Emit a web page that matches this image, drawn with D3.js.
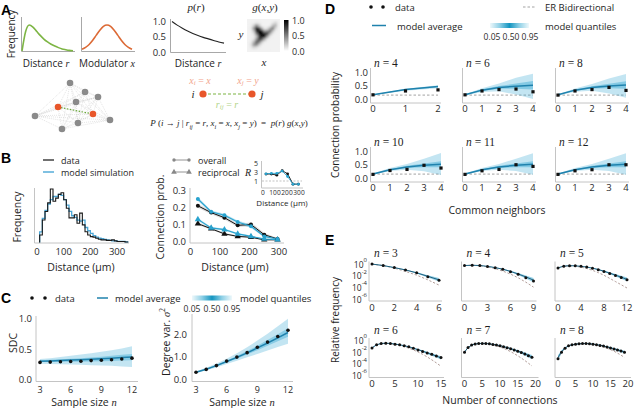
<!DOCTYPE html>
<html><head><meta charset="utf-8">
<script src="https://cdn.jsdelivr.net/npm/d3@7"></script>
<style>
body{margin:0;background:#fff;}
svg{display:block;}
</style></head><body>
<script>
// ================= DATA =================
// Panel A
const distR = [0,0.75,1.0,0.92,0.76,0.6,0.46,0.35,0.26,0.19,0.13,0.08,0.05,0.025,0.01];
const modX  = [0.07,0.14,0.25,0.41,0.61,0.8,0.95,1.0,0.95,0.8,0.61,0.41,0.25,0.14,0.07];
const prR   = [1.0,0.88,0.78,0.69,0.61,0.54,0.48,0.43,0.38,0.33,0.29];
const prTicks = [0,0.5,1];
const cbTicks = [0,0.5,1];
const gMat = [
 [.1,.1,.1,.1,.1,.1,.1,.1,.1,.1,.1,.1],
 [.1,.1,.12,.18,.14,.1,.1,.1,.1,.18,.28,.12],
 [.1,.12,.3,.55,.35,.12,.1,.1,.15,.4,.4,.12],
 [.1,.15,.5,.9,.8,.4,.15,.2,.45,.6,.25,.1],
 [.1,.12,.35,.85,1,.9,.5,.55,.65,.35,.12,.1],
 [.1,.1,.2,.55,.95,1,.95,.8,.4,.15,.1,.1],
 [.1,.1,.15,.35,.8,1,.9,.45,.15,.1,.1,.1],
 [.1,.1,.2,.5,.8,.7,.4,.15,.1,.1,.1,.1],
 [.1,.15,.4,.7,.6,.3,.12,.1,.1,.1,.1,.1],
 [.1,.2,.5,.55,.3,.12,.1,.1,.1,.1,.1,.1],
 [.1,.15,.25,.2,.12,.1,.1,.1,.1,.1,.1,.1],
 [.1,.1,.1,.1,.1,.1,.1,.1,.1,.1,.1,.1]];
const netNodes = [[46.7,0,0],[66.7,19.6,0],[84,30.4,0],[54.7,41.3,0],[30.7,52.2,1],[77.3,67.4,1],[0,71.7,0],[57.3,87,0],[100,80.4,0],[36,100,0]];
const pairNodes = [0,100];

// Panel B
const histEdges = [10,20,30,40,50,60,70,80,90,100,110,120,130,140,150,160,170,180,190,200,210,220,230,240,250,260,270,280,290,300,310,320,330,340];
const histData  = [0.14,0.42,0.58,0.74,1.0,0.77,0.83,0.9,0.93,0.8,0.64,0.46,0.46,0.52,0.36,0.55,0.33,0.2,0.14,0.11,0.1,0.08,0.06,0.05,0.05,0.04,0.04,0.05,0.03,0.02,0.02,0.02,0.01];
const histModel = [0.2,0.45,0.6,0.72,0.8,0.86,0.86,0.9,0.88,0.8,0.7,0.58,0.5,0.47,0.42,0.4,0.42,0.28,0.22,0.17,0.13,0.1,0.08,0.07,0.06,0.05,0.04,0.03,0.03,0.02,0.02,0.02,0.01];
const distTicks = [0,100,200,300];
const cpDist = [25,70,115,160,205,250,295];
const cpOverallData  = [0.21,0.17,0.14,0.095,0.10,0.04,0.015];
const cpOverallModel = [0.25,0.175,0.155,0.115,0.09,0.03,0.015];
const cpRecipData    = [0.105,0.075,0.045,0.03,0.025,0.01,0.01];
const cpRecipModel   = [0.13,0.08,0.07,0.045,0.03,0.015,0.01];
const cpOverallDataErr  = [0.012,0.01,0.01,0.01,0.012,0.01,0.006];
const cpOverallModelErr = [0.012,0.008,0.008,0.008,0.01,0.006,0.004];
const cpRecipDataErr    = [0.008,0.006,0.005,0.005,0.005,0.004,0.003];
const cpRecipModelErr   = [0.008,0.006,0.006,0.005,0.005,0.004,0.003];
const cpTicks = [0,0.1,0.2,0.3];
const rData  = [2.55,2.55,2.3,3.3,2.6,0.3,0.3];
const rModel = [2.6,2.7,2.7,3.2,2.0,0.3,0.3];
const rTicks = [1,3,5];

// Panel C
const sampleN = [3,4,5,6,7,8,9,10,11,12];
const sampleTicks = [3,6,9,12];
const sdcData = [0.28,0.285,0.29,0.295,0.30,0.31,0.315,0.325,0.335,0.35];
const sdcAvg  = [0.30,0.305,0.31,0.318,0.325,0.333,0.342,0.35,0.36,0.37];
const sdcQ05  = [0.26,0.255,0.25,0.245,0.24,0.235,0.23,0.225,0.215,0.205];
const sdcQ25  = [0.285,0.287,0.289,0.291,0.293,0.296,0.30,0.305,0.31,0.315];
const sdcQ75  = [0.315,0.322,0.33,0.34,0.35,0.36,0.375,0.39,0.405,0.42];
const sdcQ95  = [0.335,0.35,0.37,0.39,0.41,0.43,0.455,0.48,0.51,0.545];
const sdcTicks = [0,0.5,1];
const dvData = [0.3,0.43,0.6,0.8,0.98,1.18,1.42,1.65,1.9,2.18];
const dvAvg  = [0.3,0.44,0.6,0.78,0.97,1.17,1.39,1.61,1.84,2.08];
const dvQ05  = [0.27,0.39,0.52,0.67,0.82,0.97,1.12,1.28,1.43,1.58];
const dvQ25  = [0.29,0.42,0.57,0.74,0.91,1.1,1.29,1.49,1.69,1.89];
const dvQ75  = [0.31,0.46,0.63,0.82,1.03,1.25,1.49,1.74,2.0,2.27];
const dvQ95  = [0.33,0.5,0.69,0.91,1.15,1.42,1.72,2.03,2.36,2.7];
const dvTicks = [0,1,2];
const quantTicks = [0.05,0.5,0.95];

// Panel D (common neighbors -> connection probability)
const dN4data = [0.17,0.31,0.35], dN4avg=[0.17,0.36,0.47], dN4q05=[0.16,0.32,0.41], dN4q25=[0.165,0.345,0.445], dN4q75=[0.175,0.375,0.495], dN4q95=[0.18,0.39,0.52];
const dN6data = [0.17,0.31,0.36,0.38,0.28], dN6avg=[0.17,0.34,0.44,0.48,0.52], dN6q05=[0.15,0.27,0.3,0.18,0.02], dN6q25=[0.16,0.31,0.39,0.39,0.36], dN6q75=[0.18,0.37,0.49,0.58,0.67], dN6q95=[0.19,0.41,0.58,0.79,0.94];
const dN8data = [0.16,0.31,0.36,0.44,0.33], dN8avg=[0.17,0.34,0.44,0.49,0.53], dN8q05=[0.15,0.28,0.32,0.22,0.06], dN8q25=[0.16,0.32,0.4,0.41,0.39], dN8q75=[0.18,0.36,0.48,0.57,0.66], dN8q95=[0.19,0.4,0.56,0.76,0.93];
const dN10data= [0.15,0.29,0.33,0.48,0.38], dN10avg=[0.16,0.32,0.42,0.48,0.52], dN10q05=[0.14,0.27,0.32,0.26,0.13], dN10q25=[0.15,0.3,0.38,0.41,0.41], dN10q75=[0.17,0.34,0.46,0.55,0.63], dN10q95=[0.18,0.38,0.53,0.72,0.93];
const dN11data= [0.15,0.28,0.33,0.5,0.44], dN11avg=[0.16,0.32,0.42,0.48,0.52], dN11q05=[0.14,0.27,0.32,0.27,0.14], dN11q25=[0.15,0.3,0.38,0.41,0.41], dN11q75=[0.17,0.34,0.46,0.55,0.63], dN11q95=[0.18,0.38,0.53,0.72,0.92];
const dN12data= [0.15,0.28,0.32,0.5,0.5], dN12avg=[0.16,0.32,0.42,0.48,0.52], dN12q05=[0.14,0.27,0.32,0.27,0.14], dN12q25=[0.15,0.3,0.38,0.41,0.41], dN12q75=[0.17,0.34,0.46,0.55,0.63], dN12q95=[0.18,0.38,0.53,0.72,0.92];
const dER = [0.16,0.16,0.16,0.16,0.16];
const dYTicks = [0,0.5,1];

// Panel E (log10 relative frequency)
const eN3data=[-0.1,-0.35,-0.7,-1.1,-1.6,-2.25,-2.85], eN3avg=[-0.1,-0.35,-0.7,-1.1,-1.6,-2.2,-2.8], eN3lo=[-0.12,-0.38,-0.75,-1.18,-1.72,-2.4,-3.1], eN3hi=[-0.08,-0.32,-0.65,-1.02,-1.48,-2.0,-2.5], eN3er=[-0.1,-0.36,-0.8,-1.35,-2.0,-2.8,-3.7];
const eN4data=[-0.35,-0.3,-0.36,-0.5,-0.72,-1.0,-1.4,-1.85,-2.45,-3.0], eN4avg=[-0.35,-0.3,-0.35,-0.49,-0.7,-0.98,-1.35,-1.8,-2.3,-2.85], eN4lo=[-0.37,-0.32,-0.38,-0.53,-0.76,-1.07,-1.47,-1.98,-2.55,-3.2], eN4hi=[-0.33,-0.28,-0.32,-0.45,-0.64,-0.9,-1.23,-1.62,-2.05,-2.5], eN4er=[-0.35,-0.3,-0.38,-0.58,-0.88,-1.3,-1.82,-2.45,-3.2,-4.05];
const eN5data=[-0.75,-0.45,-0.38,-0.4,-0.48,-0.62,-0.8,-1.05,-1.35,-1.7,-2.05,-2.4,-2.8], eN5avg=[-0.75,-0.45,-0.38,-0.4,-0.48,-0.62,-0.8,-1.04,-1.33,-1.66,-2.0,-2.35,-2.72], eN5lo=[-0.78,-0.47,-0.4,-0.42,-0.51,-0.66,-0.86,-1.12,-1.45,-1.82,-2.22,-2.62,-3.05], eN5hi=[-0.72,-0.43,-0.36,-0.38,-0.45,-0.58,-0.74,-0.96,-1.22,-1.5,-1.8,-2.1,-2.4], eN5er=[-0.75,-0.45,-0.4,-0.47,-0.62,-0.86,-1.17,-1.56,-2.02,-2.55,-3.1,-3.65,-4.2];
const eN6data=[-1.37,-0.82,-0.6,-0.55,-0.6,-0.71,-0.82,-0.98,-1.15,-1.42,-1.7,-1.97,-2.24,-2.46,-2.73,-3.0], eN6avg=[-1.35,-0.82,-0.6,-0.55,-0.59,-0.69,-0.82,-0.98,-1.17,-1.4,-1.65,-1.92,-2.2,-2.48,-2.76,-3.05], eN6lo=[-1.4,-0.85,-0.62,-0.57,-0.61,-0.72,-0.86,-1.03,-1.24,-1.49,-1.77,-2.07,-2.38,-2.7,-3.02,-3.35], eN6hi=[-1.3,-0.79,-0.58,-0.53,-0.57,-0.66,-0.78,-0.93,-1.1,-1.31,-1.53,-1.77,-2.02,-2.27,-2.52,-2.77], eN6er=[-1.37,-0.82,-0.6,-0.56,-0.62,-0.75,-0.92,-1.13,-1.39,-1.7,-2.05,-2.45,-2.9,-3.4,-3.93,-4.5];
const eN7data=[-2.1,-1.3,-0.85,-0.68,-0.6,-0.58,-0.6,-0.66,-0.75,-0.86,-1.0,-1.15,-1.32,-1.5,-1.7,-1.92,-2.15,-2.4,-2.7,-2.95], eN7avg=[-2.05,-1.3,-0.86,-0.68,-0.6,-0.58,-0.6,-0.66,-0.74,-0.85,-0.98,-1.13,-1.3,-1.48,-1.68,-1.9,-2.13,-2.38,-2.64,-2.9], eN7lo=[-2.15,-1.34,-0.89,-0.7,-0.62,-0.6,-0.62,-0.68,-0.77,-0.89,-1.03,-1.2,-1.39,-1.6,-1.83,-2.08,-2.35,-2.64,-2.95,-3.28], eN7hi=[-1.95,-1.26,-0.83,-0.66,-0.58,-0.56,-0.58,-0.64,-0.71,-0.81,-0.93,-1.06,-1.21,-1.37,-1.54,-1.72,-1.92,-2.13,-2.35,-2.57], eN7er=[-2.1,-1.3,-0.86,-0.68,-0.61,-0.6,-0.64,-0.72,-0.84,-1.0,-1.2,-1.43,-1.7,-2.0,-2.34,-2.7,-3.1,-3.52,-3.98,-4.45];
const eN8data=[-3.2,-2.1,-1.4,-1.0,-0.82,-0.72,-0.66,-0.6,-0.6,-0.66,-0.72,-0.82,-0.93,-1.04,-1.2,-1.37,-1.53,-1.7,-1.9,-2.1], eN8avg=[-3.0,-2.0,-1.38,-1.0,-0.82,-0.72,-0.65,-0.61,-0.6,-0.63,-0.7,-0.79,-0.9,-1.03,-1.18,-1.34,-1.51,-1.69,-1.88,-2.07], eN8lo=[-3.5,-2.3,-1.52,-1.08,-0.86,-0.75,-0.68,-0.63,-0.62,-0.66,-0.73,-0.83,-0.96,-1.11,-1.28,-1.47,-1.67,-1.88,-2.1,-2.33], eN8hi=[-2.6,-1.75,-1.25,-0.93,-0.78,-0.69,-0.62,-0.59,-0.58,-0.6,-0.67,-0.75,-0.85,-0.96,-1.08,-1.22,-1.36,-1.51,-1.67,-1.83], eN8er=[-3.2,-2.1,-1.4,-1.0,-0.82,-0.72,-0.66,-0.62,-0.62,-0.66,-0.74,-0.86,-1.0,-1.18,-1.4,-1.65,-1.93,-2.25,-2.6,-3.0];
const eYTicks = [0,-2,-4,-6];

// ================= DRAWING =================
const svg = d3.select('body').append('svg').attr('width',640).attr('height',408);
const SANS = "'Open Sans','DejaVu Sans',sans-serif";
const SERIF = "'Liberation Serif','DejaVu Serif',serif";
const SPINE='#c4c4c4', TICK='#2a2a2a', AX='#1e1e1e';
const BLUE='#29a3cf', BLUE_LINE='#1f82ad', HIST_BLUE='#4aa6d6';
const f1=d3.format('.1f'), fd=d3.format('d'), f2=d3.format('.2f');

const defs = svg.append('defs');
const qg = defs.append('linearGradient').attr('id','qgrad');
[[0,'#eef8fb'],[0.25,'#8fd0e6'],[0.5,'#1495c0'],[0.75,'#8fd0e6'],[1,'#eef8fb']].forEach(s=>qg.append('stop').attr('offset',s[0]).attr('stop-color',s[1]));
const cg = defs.append('linearGradient').attr('id','cgrad').attr('x1',0).attr('y1',0).attr('x2',0).attr('y2',1);
[[0,'#000'],[1,'#fff']].forEach(s=>cg.append('stop').attr('offset',s[0]).attr('stop-color',s[1]));
defs.append('filter').attr('id','blur').attr('x','-20%').attr('y','-20%').attr('width','140%').attr('height','140%')
  .append('feGaussianBlur').attr('stdDeviation',1.3);

function rich(g,x,y,parts,o={}){
  const size=o.size||10;
  const t=g.append('text').attr('x',x).attr('y',y).attr('font-size',size).attr('fill',o.fill||AX)
    .attr('text-anchor',o.anchor||'start').attr('dominant-baseline','central').attr('font-family',o.family||SANS)
    .style('white-space','pre');
  if(o.weight) t.attr('font-weight',o.weight);
  if(o.rotate) t.attr('transform',`rotate(-90,${x},${y})`);
  let shift=0;
  parts.forEach(p=>{
    if(typeof p==='string') p={t:p};
    const s=t.append('tspan').text(p.t);
    const target = p.sub? 0.3*size : p.sup? -0.42*size : 0;
    if(target!==shift){ s.attr('dy',target-shift); shift=target; }
    if(p.sub||p.sup) s.attr('font-size',size*0.7);
    if(p.it){ s.attr('font-style','italic').attr('font-family',SERIF); }
    if(p.serif){ s.attr('font-family',SERIF); }
  });
  return t;
}
function plain(g,x,y,s,size,anchor){
  return g.append('text').attr('x',x).attr('y',y).attr('text-anchor',anchor).attr('dominant-baseline','central')
    .attr('font-size',size).attr('font-family',SANS).attr('fill',TICK).text(s);
}
function spines(g,xl,xr,yt,yb,c=SPINE){
  g.append('line').attr('x1',xl).attr('x2',xl).attr('y1',yt).attr('y2',yb).attr('stroke',c).attr('stroke-width',1);
  g.append('line').attr('x1',xl).attr('x2',xr).attr('y1',yb).attr('y2',yb).attr('stroke',c).attr('stroke-width',1);
}
function yLabels(g,yS,vals,x,fmt,size,anchor){
  vals.forEach(v=>plain(g,x,yS(v),fmt(v),size,anchor||'end'));
}
function xLabels(g,xS,vals,y,fmt,size){
  vals.forEach(v=>plain(g,xS(v),y,fmt(v),size,'middle'));
}
function band(g,xs,lo,hi,xS,yS,fill,op){
  g.append('path').datum(xs).attr('d',d3.area().x(d=>xS(d)).y0((d,i)=>yS(lo[i])).y1((d,i)=>yS(hi[i])))
   .attr('fill',fill).attr('fill-opacity',op).attr('stroke','none');
}
function sline(g,xs,ys,xS,yS,stroke,w,dash,curve){
  const p=g.append('path').datum(xs).attr('d',d3.line().x(d=>xS(d)).y((d,i)=>yS(ys[i])).curve(curve||d3.curveLinear))
   .attr('fill','none').attr('stroke',stroke).attr('stroke-width',w);
  if(dash) p.attr('stroke-dasharray',dash);
  return p;
}
function dots(g,xs,ys,xS,yS,r,fill){
  g.selectAll(null).data(xs).enter().append('circle').attr('cx',d=>xS(d)).attr('cy',(d,i)=>yS(ys[i])).attr('r',r).attr('fill',fill);
}
function tris(g,xs,ys,xS,yS,size,fill){
  g.selectAll(null).data(xs).enter().append('path').attr('d',d3.symbol(d3.symbolTriangle,size))
   .attr('transform',(d,i)=>`translate(${xS(d)},${yS(ys[i])})`).attr('fill',fill);
}
function letter(x,y,s){ rich(svg,x,y,[s],{size:14,weight:'bold',family:"'Liberation Sans',Arial,sans-serif",fill:'#000'}); }

// ---------- Panel A ----------
letter(1,10,'A');
const gA = svg.append('g');
rich(gA,11,34,['Frequency'],{size:10,rotate:true,anchor:'middle'});
spines(gA,21.5,75,17,51.5,'#a8a8a8');
const a1x=d3.scaleLinear().domain([0,distR.length-1]).range([22,73]);
const aY=d3.scaleLinear().domain([0,1]).range([51,25]);
sline(gA,d3.range(distR.length),distR,a1x,aY,'#7db544',1.6,null,d3.curveMonotoneX);
rich(gA,46,63,['Distance ',{t:'r',it:true}],{size:10,anchor:'middle'});
spines(gA,81.5,135,17,51.5,'#a8a8a8');
const a2x=d3.scaleLinear().domain([0,modX.length-1]).range([82,132]);
sline(gA,d3.range(modX.length),modX,a2x,aY,'#dc6a36',1.6,null,d3.curveMonotoneX);
rich(gA,107,63,['Modulator ',{t:'x',it:true}],{size:10,anchor:'middle'});

rich(gA,196,7,[{t:'p',it:true},{t:'(',serif:true},{t:'r',it:true},{t:')',serif:true}],{size:11,anchor:'middle'});
spines(gA,170.5,226,19,52.5,'#a8a8a8');
const prx=d3.scaleLinear().domain([0,prR.length-1]).range([172,224]);
const pry=d3.scaleLinear().domain([0,1]).range([52,21.5]);
yLabels(gA,pry,prTicks,166,f1,9.5);
sline(gA,d3.range(prR.length),prR,prx,pry,'#222',1.1,null,d3.curveMonotoneX);
rich(gA,198,63,['Distance ',{t:'r',it:true}],{size:10,anchor:'middle'});

rich(gA,265,7,[{t:'g',it:true},{t:'(',serif:true},{t:'x',it:true},{t:',',serif:true},{t:'y',it:true},{t:')',serif:true}],{size:11,anchor:'middle'});
const hx=d3.scaleBand().domain(d3.range(12)).range([247,280]);
const hy=d3.scaleBand().domain(d3.range(12)).range([19,52]);
defs.append('clipPath').attr('id','hclip').append('rect').attr('x',247).attr('y',19).attr('width',33).attr('height',33);
const hOuter=gA.append('g').attr('clip-path','url(#hclip)');
hOuter.append('rect').attr('x',247).attr('y',19).attr('width',33).attr('height',33).attr('fill',d3.interpolateGreys(0.1));
const hInner=hOuter.append('g').attr('filter','url(#blur)');
gMat.forEach((row,ri)=>row.forEach((v,ci)=>{
  hInner.append('rect').attr('x',hx(ci)-0.2).attr('y',hy(ri)-0.2).attr('width',hx.bandwidth()+0.4).attr('height',hy.bandwidth()+0.4).attr('fill',d3.interpolateGreys(v));
}));
rich(gA,241,34,[{t:'y',it:true}],{size:11,anchor:'middle'});
rich(gA,264,62,[{t:'x',it:true}],{size:11,anchor:'middle'});
const cbY=d3.scaleLinear().domain([0,1]).range([51,20]);
gA.append('rect').attr('x',284).attr('y',cbY(1)).attr('width',4.5).attr('height',cbY(0)-cbY(1)).attr('fill','url(#cgrad)');
yLabels(gA,cbY,cbTicks,292,f1,9,'start');

const nx=d3.scaleLinear().domain([0,100]).range([35,110]);
const ny=d3.scaleLinear().domain([0,100]).range([83,129]);
for(let i=0;i<netNodes.length;i++) for(let j=i+1;j<netNodes.length;j++){
  const a=netNodes[i], b=netNodes[j];
  if(a[2]&&b[2]) continue;
  gA.append('line').attr('x1',nx(a[0])).attr('y1',ny(a[1])).attr('x2',nx(b[0])).attr('y2',ny(b[1]))
    .attr('stroke','#c8c8c8').attr('stroke-width',0.5).attr('stroke-dasharray','1,1');
}
const orange=netNodes.filter(d=>d[2]);
gA.append('line').attr('x1',nx(orange[0][0])).attr('y1',ny(orange[0][1])).attr('x2',nx(orange[1][0])).attr('y2',ny(orange[1][1]))
  .attr('stroke','#6aa83a').attr('stroke-width',1.2).attr('stroke-dasharray','1.5,1.5');
gA.selectAll(null).data(netNodes).enter().append('circle').attr('cx',d=>nx(d[0])).attr('cy',d=>ny(d[1])).attr('r',3.3)
  .attr('fill',d=>d[2]?'#e8562a':'#8a8a8a');

const px=d3.scaleLinear().domain([0,100]).range([203,252]);
gA.append('line').attr('x1',px(pairNodes[0])).attr('x2',px(pairNodes[1])).attr('y1',94).attr('y2',94).attr('stroke','#7cb342').attr('stroke-width',1.2).attr('stroke-dasharray','3,2');
gA.selectAll(null).data(pairNodes).enter().append('circle').attr('cx',d=>px(d)).attr('cy',94).attr('r',3.6).attr('fill','#e8562a');
rich(gA,193,94,[{t:'i',it:true}],{size:11,anchor:'middle'});
rich(gA,262,94,[{t:'j',it:true}],{size:11,anchor:'middle'});
rich(gA,200,80,[{t:'x',it:true},{t:'i',it:true,sub:true},{t:' = ',serif:true},{t:'x',it:true}],{size:10,anchor:'middle',fill:'#f2a48c'});
rich(gA,248,80,[{t:'x',it:true},{t:'j',it:true,sub:true},{t:' = ',serif:true},{t:'y',it:true}],{size:10,anchor:'middle',fill:'#f2a48c'});
rich(gA,227,104,[{t:'r',it:true},{t:'ij',it:true,sub:true},{t:' = ',serif:true},{t:'r',it:true}],{size:10,anchor:'middle',fill:'#b3d48a'});
rich(gA,229,123,[{t:'P',it:true},{t:' (',serif:true},{t:'i',it:true},{t:' → ',serif:true},{t:'j',it:true},{t:' | ',serif:true},
  {t:'r',it:true},{t:'ij',it:true,sub:true},{t:' = ',serif:true},{t:'r',it:true},{t:', ',serif:true},
  {t:'x',it:true},{t:'i',it:true,sub:true},{t:' = ',serif:true},{t:'x',it:true},{t:', ',serif:true},
  {t:'x',it:true},{t:'j',it:true,sub:true},{t:' = ',serif:true},{t:'y',it:true},{t:')  =  ',serif:true},
  {t:'p',it:true},{t:'(',serif:true},{t:'r',it:true},{t:') ',serif:true},{t:'g',it:true},{t:'(',serif:true},{t:'x',it:true},{t:',',serif:true},{t:'y',it:true},{t:')',serif:true}],
  {size:9,anchor:'middle'});

// ---------- Panel B ----------
letter(1,158,'B');
const gB=svg.append('g');
gB.append('line').attr('x1',43).attr('x2',54).attr('y1',160).attr('y2',160).attr('stroke','#111').attr('stroke-width',1.2);
rich(gB,61,160,['data'],{size:9});
gB.append('line').attr('x1',43).attr('x2',54).attr('y1',172).attr('y2',172).attr('stroke',HIST_BLUE).attr('stroke-width',1.4);
rich(gB,61,172,['model simulation'],{size:9});

const hbx=d3.scaleLinear().domain([0,340]).range([37,127.7]);
const hby=d3.scaleLinear().domain([0,1]).range([242.5,189]);
spines(gB,34.5,129,188,243);
function stepPts(vals){
  const pts=[[histEdges[0],0]];
  vals.forEach((v,i)=>pts.push([histEdges[i],v]));
  pts.push([histEdges[histEdges.length-1],vals[vals.length-1]]);
  pts.push([histEdges[histEdges.length-1],0]);
  return pts;
}
const stepLine=d3.line().x(d=>hbx(d[0])).y(d=>hby(d[1])).curve(d3.curveStepAfter);
gB.append('path').datum(stepPts(histModel)).attr('d',stepLine).attr('fill','none').attr('stroke',HIST_BLUE).attr('stroke-width',1.3);
gB.append('path').datum(stepPts(histData)).attr('d',stepLine).attr('fill','none').attr('stroke','#1a1a1a').attr('stroke-width',1.1);
xLabels(gB,hbx,distTicks,251,fd,9.5);
rich(gB,81,267,['Distance (μm)'],{size:10.5,anchor:'middle'});
rich(gB,17,217,['Frequency'],{size:10.5,anchor:'middle',rotate:true});

const cpx=d3.scaleLinear().domain([0,300]).range([190.5,279]);
const cpy=d3.scaleLinear().domain([0,0.3]).range([241.5,190.5]);
spines(gB,190,284,188,243);
yLabels(gB,cpy,cpTicks,186,f1,9.5);
xLabels(gB,cpx,distTicks,251,fd,9.5);
rich(gB,235,267,['Distance (μm)'],{size:10.5,anchor:'middle'});
rich(gB,160,217,['Connection prob.'],{size:10.5,anchor:'middle',rotate:true});
const sub=(a,b)=>a.map((v,i)=>v-b[i]), add=(a,b)=>a.map((v,i)=>v+b[i]);
band(gB,cpDist,sub(cpOverallData,cpOverallDataErr),add(cpOverallData,cpOverallDataErr),cpx,cpy,'#8a8a8a',0.3);
band(gB,cpDist,sub(cpRecipData,cpRecipDataErr),add(cpRecipData,cpRecipDataErr),cpx,cpy,'#8a8a8a',0.3);
band(gB,cpDist,sub(cpOverallModel,cpOverallModelErr),add(cpOverallModel,cpOverallModelErr),cpx,cpy,BLUE,0.3);
band(gB,cpDist,sub(cpRecipModel,cpRecipModelErr),add(cpRecipModel,cpRecipModelErr),cpx,cpy,BLUE,0.3);
sline(gB,cpDist,cpOverallData,cpx,cpy,'#111',1);
sline(gB,cpDist,cpRecipData,cpx,cpy,'#111',1);
sline(gB,cpDist,cpOverallModel,cpx,cpy,BLUE,1.1);
sline(gB,cpDist,cpRecipModel,cpx,cpy,BLUE,1.1);
dots(gB,cpDist,cpOverallData,cpx,cpy,2,'#111');
tris(gB,cpDist,cpRecipData,cpx,cpy,17,'#111');
dots(gB,cpDist,cpOverallModel,cpx,cpy,2,BLUE);
tris(gB,cpDist,cpRecipModel,cpx,cpy,17,BLUE);
const legX=d3.scaleLinear().domain([0,1]).range([174,189]);
gB.append('line').attr('x1',legX(0)).attr('x2',legX(1)).attr('y1',160).attr('y2',160).attr('stroke','#888').attr('stroke-width',0.9);
dots(gB,[0,1],[160,160],legX,d=>d,1.7,'#888');
rich(gB,198,160,['overall'],{size:9});
gB.append('line').attr('x1',legX(0)).attr('x2',legX(1)).attr('y1',172).attr('y2',172).attr('stroke','#888').attr('stroke-width',0.9);
tris(gB,[0,1],[172,172],legX,d=>d,14,'#888');
rich(gB,198,172,['reciprocal'],{size:9});
const rix=d3.scaleLinear().domain([0,300]).range([263,299]);
const riy=d3.scaleLinear().domain([0,5]).range([185.5,163]);
spines(gB,261.5,303,161,188);
gB.append('line').attr('x1',262).attr('x2',302).attr('y1',riy(1)).attr('y2',riy(1)).attr('stroke','#aaa').attr('stroke-width',0.7).attr('stroke-dasharray','2,1.5');
sline(gB,cpDist,rData,rix,riy,'#111',0.9);
sline(gB,cpDist,rModel,rix,riy,BLUE,0.9);
dots(gB,cpDist,rData,rix,riy,1.4,'#111');
dots(gB,cpDist,rModel,rix,riy,1.4,BLUE);
yLabels(gB,riy,rTicks,258,fd,7);
xLabels(gB,rix,distTicks,192,fd,6.6);
rich(gB,248,172,[{t:'R',it:true}],{size:10,anchor:'middle'});
rich(gB,282,202,['Distance (μm)'],{size:8,anchor:'middle'});

// ---------- Panel C ----------
letter(1,298,'C');
const gC=svg.append('g');
const lgx=d3.scaleLinear().domain([0,1]).range([32,45]);
dots(gC,[0,1],[298,298],lgx,d=>d,1.8,'#111');
rich(gC,55,298,['data'],{size:9.5});
gC.append('line').attr('x1',97).attr('x2',108).attr('y1',298).attr('y2',298).attr('stroke',BLUE_LINE).attr('stroke-width',1.5);
rich(gC,115,298,['model average'],{size:9.5});
gC.append('rect').attr('x',192).attr('y',295.5).attr('width',40).attr('height',5).attr('fill','url(#qgrad)');
rich(gC,240,298,['model quantiles'],{size:9.5});
const qlx=d3.scaleLinear().domain([0.05,0.95]).range([192,232]);
xLabels(gC,qlx,quantTicks,308.5,f2,8.5);

function quantPlot(g,xS,yS,xs,q05,q25,q75,q95,avg,data,r){
  band(g,xs,q05,q95,xS,yS,BLUE,0.28);
  band(g,xs,q25,q75,xS,yS,BLUE,0.38);
  sline(g,xs,avg,xS,yS,BLUE_LINE,1.5);
  dots(g,xs,data,xS,yS,r,'#111');
}
const sdx=d3.scaleLinear().domain([3,12]).range([40,132]);
const sdy=d3.scaleLinear().domain([0,1]).range([379.5,318.5]);
spines(gC,36,138,316,381.5);
quantPlot(gC,sdx,sdy,sampleN,sdcQ05,sdcQ25,sdcQ75,sdcQ95,sdcAvg,sdcData,1.8);
yLabels(gC,sdy,sdcTicks,32,f1,9.5);
xLabels(gC,sdx,sampleTicks,389.5,fd,9);
rich(gC,84,402,['Sample size ',{t:'n',it:true}],{size:10.5,anchor:'middle'});
rich(gC,13,343,['SDC'],{size:10.5,anchor:'middle',rotate:true});

const dvx=d3.scaleLinear().domain([3,12]).range([196,288]);
const dvy=d3.scaleLinear().domain([0,2]).range([379,334.3]);
spines(gC,192,293,314,381.5);
quantPlot(gC,dvx,dvy,sampleN,dvQ05,dvQ25,dvQ75,dvQ95,dvAvg,dvData,1.8);
yLabels(gC,dvy,dvTicks,187,f1,9.5);
xLabels(gC,dvx,sampleTicks,389.5,fd,9);
rich(gC,242,402,['Sample size ',{t:'n',it:true}],{size:10.5,anchor:'middle'});
rich(gC,166,342,['Degree var. ',{t:'σ',it:true},{t:'2',sup:true,serif:true}],{size:10.5,anchor:'middle',rotate:true});

// ---------- Panel D ----------
letter(325,9,'D');
const gD=svg.append('g');
const dlx=d3.scaleLinear().domain([0,1]).range([371,383]);
dots(gD,[0,1],[7,7],dlx,d=>d,1.8,'#111');
rich(gD,395,7,['data'],{size:9.5});
gD.append('line').attr('x1',523).attr('x2',535).attr('y1',7).attr('y2',7).attr('stroke','#999').attr('stroke-width',0.9).attr('stroke-dasharray','2.5,2');
rich(gD,545,7,['ER Bidirectional'],{size:9.5});
gD.append('line').attr('x1',372).attr('x2',386).attr('y1',25.5).attr('y2',25.5).attr('stroke',BLUE_LINE).attr('stroke-width',1.5);
rich(gD,397,25.5,['model average'],{size:9.5});
gD.append('rect').attr('x',490).attr('y',23).attr('width',39).attr('height',5).attr('fill','url(#qgrad)');
rich(gD,545,25.5,['model quantiles'],{size:9.5});
const dqx=d3.scaleLinear().domain([0.05,0.95]).range([492,530]);
xLabels(gD,dqx,quantTicks,36,f2,8.5);

const dCols=[373,465,558];
const dRows=[{y0:99.5,y1:72,title:63,st:68,sb:103,lab:108.5},{y0:178.5,y1:151,title:142,st:147,sb:182,lab:187.5}];
function dSub(col,row,n,xmax,data,avg,q05,q25,q75,q95){
  const g=gD.append('g');
  const x0=dCols[col], R=dRows[row];
  const w = xmax===2?65:68;
  const xS=d3.scaleLinear().domain([0,xmax]).range([x0,x0+w]);
  const yS=d3.scaleLinear().domain([0,1]).range([R.y0,R.y1]);
  spines(g,x0-2.5,x0+w+3,R.st,R.sb);
  const xs=d3.range(xmax+1);
  sline(g,xs,dER.slice(0,xmax+1),xS,yS,'#999',0.9,'2.5,2');
  band(g,xs,q05,q95,xS,yS,BLUE,0.28);
  band(g,xs,q25,q75,xS,yS,BLUE,0.4);
  sline(g,xs,avg,xS,yS,BLUE_LINE,1.5);
  g.selectAll(null).data(xs).enter().append('rect').attr('x',d=>xS(d)-1.6).attr('y',(d,i)=>yS(data[i])-1.6).attr('width',3.2).attr('height',3.2).attr('fill','#111');
  rich(g,x0+1,R.title,[{t:'n',it:true},{t:' = '+n,serif:true}],{size:11.5});
  if(col===0) yLabels(g,yS,dYTicks,x0-5,f1,9.5);
  xLabels(g,xS,xs,R.lab,fd,9.5);
}
dSub(0,0,4,2,dN4data,dN4avg,dN4q05,dN4q25,dN4q75,dN4q95);
dSub(1,0,6,4,dN6data,dN6avg,dN6q05,dN6q25,dN6q75,dN6q95);
dSub(2,0,8,4,dN8data,dN8avg,dN8q05,dN8q25,dN8q75,dN8q95);
dSub(0,1,10,4,dN10data,dN10avg,dN10q05,dN10q25,dN10q75,dN10q95);
dSub(1,1,11,4,dN11data,dN11avg,dN11q05,dN11q25,dN11q75,dN11q95);
dSub(2,1,12,4,dN12data,dN12avg,dN12q05,dN12q25,dN12q75,dN12q95);
rich(gD,335,125,['Connection probability'],{size:10,anchor:'middle',rotate:true});
rich(gD,497,210,['Common neighbors'],{size:10.5,anchor:'middle'});

// ---------- Panel E ----------
letter(325,240,'E');
const gE=svg.append('g');
const eCols=[372,464.5,558];
const eRows=[{yt:263.5,yb:298.5,title:253,lab:307},{yt:340,yb:375,title:329.5,lab:383.5}];
function eSub(col,row,n,xmax,w,ticks,data,avg,lo,hi,er){
  const g=gE.append('g');
  const x0=eCols[col], R=eRows[row];
  const xS=d3.scaleLinear().domain([0,xmax]).range([x0,x0+w]);
  const yS=d3.scaleLinear().domain([-6,0]).range([R.yb,R.yt]);
  spines(g,x0-3,x0+w+3,R.yt-2,R.yb+2.5);
  const xs=d3.range(data.length);
  band(g,xs,lo,hi,xS,yS,BLUE,0.5);
  sline(g,xs,er,xS,yS,'#a8918c',0.9,'2.2,1.8');
  sline(g,xs,avg,xS,yS,'#1d5f7e',1);
  dots(g,xs,data,xS,yS,1.5,'#111');
  rich(g,x0+2,R.title,[{t:'n',it:true},{t:' = '+n,serif:true}],{size:11.5});
  if(col===0) eYTicks.forEach(k=>rich(g,x0-5,yS(k),['10',{t:String(k),sup:true}],{size:8.5,anchor:'end',fill:TICK}));
  xLabels(g,xS,ticks,R.lab,fd,9.5);
}
eSub(0,0,3,6,67,[0,2,4,6],eN3data,eN3avg,eN3lo,eN3hi,eN3er);
eSub(1,0,4,9,69,[0,3,6,9],eN4data,eN4avg,eN4lo,eN4hi,eN4er);
eSub(2,0,5,12,69,[0,4,8,12],eN5data,eN5avg,eN5lo,eN5hi,eN5er);
eSub(0,1,6,15,69,[0,5,10,15],eN6data,eN6avg,eN6lo,eN6hi,eN6er);
eSub(1,1,7,20,71,[0,5,10,15,20],eN7data,eN7avg,eN7lo,eN7hi,eN7er);
eSub(2,1,8,20,70,[0,5,10,15,20],eN8data,eN8avg,eN8lo,eN8hi,eN8er);
rich(gE,335,320,['Relative frequency'],{size:10,anchor:'middle',rotate:true});
rich(gE,500,400,['Number of connections'],{size:10.5,anchor:'middle'});
</script></body></html>
